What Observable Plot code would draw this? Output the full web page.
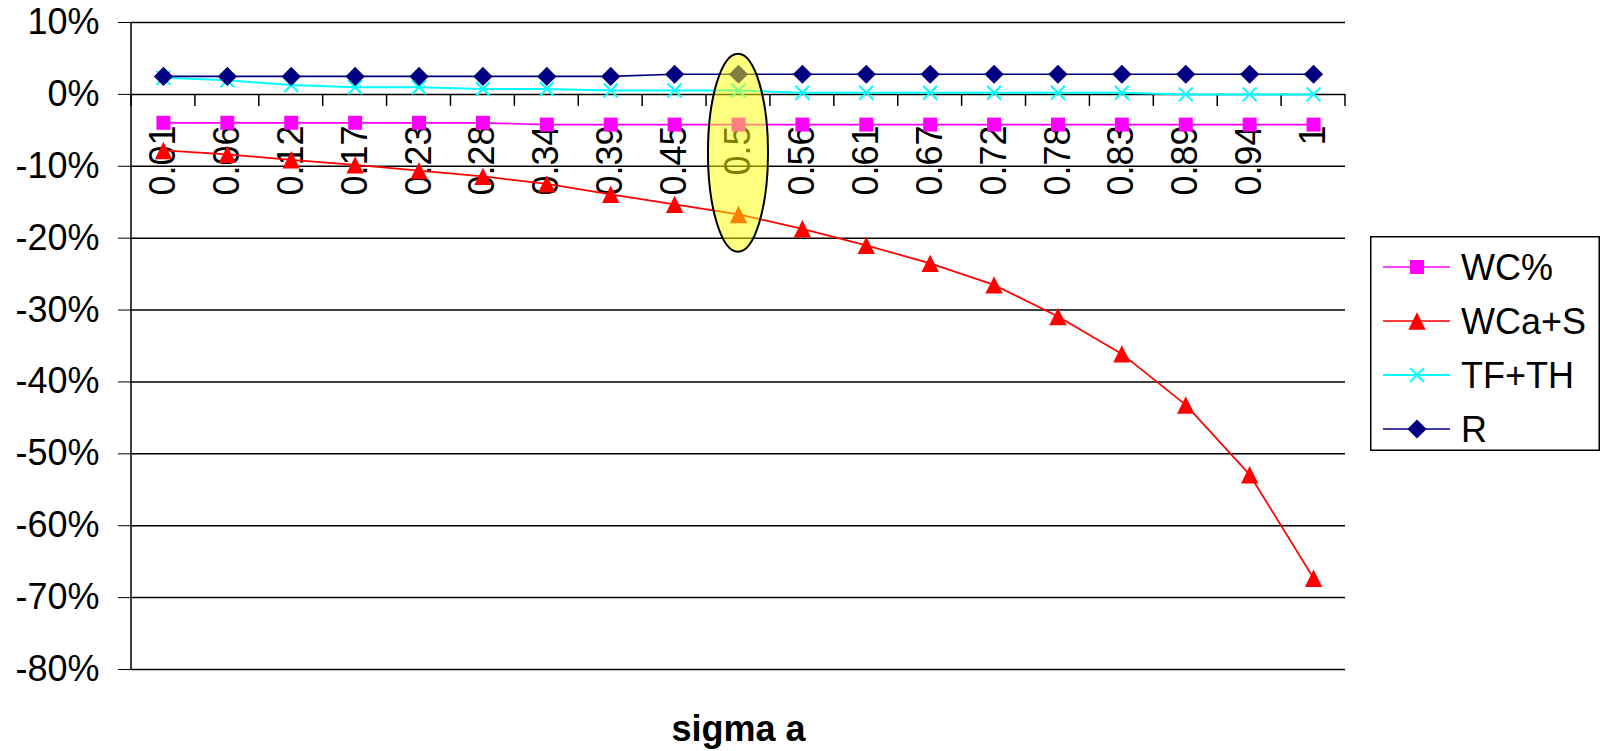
<!DOCTYPE html>
<html>
<head>
<meta charset="utf-8">
<script src="https://cdn.jsdelivr.net/npm/d3@7"></script>
<script src="https://cdn.jsdelivr.net/npm/@observablehq/plot@0.6"></script>
<style>
  body { margin: 0; background: #fff; }
  #wrap { position: relative; width: 1600px; height: 751px; font-family: "Liberation Sans", Arial, sans-serif; }
  #legend { position: absolute; left: 1370px; top: 236px; }
</style>
</head>
<body>
<div id="wrap"></div>
<script>
// ---- data ----
const categories = ["0.01","0.06","0.12","0.17","0.23","0.28","0.34","0.39","0.45","0.5",
                    "0.56","0.61","0.67","0.72","0.78","0.83","0.89","0.94","1"];
const seriesNames = ["WC%", "WCa+S", "TF+TH", "R"];
const wcPct = [-0.0395,-0.0395,-0.0395,-0.0395,-0.0395,-0.0395,-0.042,-0.042,-0.042,-0.042,
               -0.042,-0.042,-0.042,-0.042,-0.042,-0.042,-0.042,-0.042,-0.042];
const wcaS  = [-0.078,-0.0835,-0.091,-0.098,-0.106,-0.114,-0.1245,-0.139,-0.153,-0.167,
               -0.187,-0.210,-0.235,-0.265,-0.309,-0.361,-0.432,-0.529,-0.673];
const tfTh  = [0.023,0.0195,0.013,0.010,0.010,0.0074,0.0074,0.0055,0.0055,0.0055,
               0.0022,0.0022,0.0022,0.0022,0.0022,0.0022,0,0,0];
const rVals = [0.025,0.025,0.025,0.025,0.025,0.025,0.025,0.025,0.028,0.028,
               0.028,0.028,0.028,0.028,0.028,0.028,0.028,0.028,0.028];
const yTicks = [0.1,0,-0.1,-0.2,-0.3,-0.4,-0.5,-0.6,-0.7,-0.8];
const axisTitle = "sigma a";
// highlighted category (ellipse annotation), vertical extent in data units
const highlight = { category: "0.5", top: 0.056, bottom: -0.2195 };

// ---- styles ----
const seriesColors = ["#ff00ff", "#ff0000", "#00ffff", "#000080"];
const lineWidths = [1.7, 1.7, 2, 1.6];
const FONT = '"Liberation Sans", Arial, sans-serif';

const symbols = {
  square:   { draw(c, s) { const r = Math.sqrt(s / Math.PI); c.rect(-r, -r, 2 * r, 2 * r); } },
  triangle: { draw(c, s) { const r = Math.sqrt(s / Math.PI); c.moveTo(0, -r); c.lineTo(r, r); c.lineTo(-r, r); c.closePath(); } },
  times:    { draw(c, s) { const r = Math.sqrt(s / Math.PI); c.moveTo(-r, -r); c.lineTo(r, r); c.moveTo(r, -r); c.lineTo(-r, r); } },
  diamond:  { draw(c, s) { const r = Math.sqrt(s / Math.PI); c.moveTo(0, -r); c.lineTo(r, 0); c.lineTo(0, r); c.lineTo(-r, 0); c.closePath(); } }
};
const markers = [
  { symbol: symbols.square,   r: 7,   filled: true },
  { symbol: symbols.triangle, r: 8.7, filled: true },
  { symbol: symbols.times,    r: 7,   filled: false },
  { symbol: symbols.diamond,  r: 9.6, filled: true }
];

const valuesBySeries = [wcPct, wcaS, tfTh, rVals];
const rows = seriesNames.flatMap((s, i) => categories.map((c, j) => ({ series: s, cat: c, value: valuesBySeries[i][j] })));

// helper for function marks (supports both render signatures)
function fnMark(draw) {
  return function (...args) {
    const old = args[0] && typeof args[0].y === "function";
    const scales = old ? args[0] : args[1];
    const dims = old ? args[1] : args[3];
    return draw(scales, dims);
  };
}
function stepOf(x) {
  return typeof x.step === "function" ? x.step() : x(categories[1]) - x(categories[0]);
}

const axisLine = fnMark((s, d) => {
  const g = d3.create("svg:g");
  g.append("line")
    .attr("x1", d.marginLeft).attr("x2", d.marginLeft)
    .attr("y1", d.marginTop).attr("y2", d.height - d.marginBottom)
    .attr("stroke", "#000").attr("stroke-width", 1.5);
  return g.node();
});

const xTicks = fnMark((s, d) => {
  const g = d3.create("svg:g");
  const step = stepOf(s.x);
  const x0 = s.x(categories[0]) - step / 2;
  const y0 = s.y(0);
  for (let i = 0; i <= categories.length; i++) {
    g.append("line")
      .attr("x1", x0 + i * step).attr("x2", x0 + i * step)
      .attr("y1", y0).attr("y2", y0 + 12)
      .attr("stroke", "#000").attr("stroke-width", 1.5);
  }
  return g.node();
});

const ellipse = fnMark((s, d) => {
  const step = stepOf(s.x);
  const yt = s.y(highlight.top), yb = s.y(highlight.bottom);
  const g = d3.create("svg:g");
  g.append("ellipse")
    .attr("cx", s.x(highlight.category))
    .attr("cy", (yt + yb) / 2)
    .attr("rx", step * 0.47)
    .attr("ry", Math.abs(yb - yt) / 2)
    .attr("fill", "#ffff00").attr("fill-opacity", 0.5)
    .attr("stroke", "#000").attr("stroke-width", 2);
  return g.node();
});

const seriesMarks = seriesNames.flatMap((name, i) => {
  const data = rows.filter(r => r.series === name);
  const m = markers[i];
  return [
    Plot.line(data, { x: "cat", y: "value", stroke: seriesColors[i], strokeWidth: lineWidths[i] }),
    Plot.dot(data, {
      x: "cat", y: "value", symbol: m.symbol, r: m.r,
      fill: m.filled ? seriesColors[i] : "none",
      stroke: m.filled ? "none" : seriesColors[i],
      strokeWidth: m.filled ? 0 : 2
    })
  ];
});

const chart = Plot.plot({
  width: 1600,
  height: 751,
  marginLeft: 131,
  marginRight: 255,
  marginTop: 22,
  marginBottom: 82,
  style: { fontFamily: FONT, fontSize: "36px", color: "#000", background: "#fff" },
  x: { type: "point", domain: categories, padding: 0.5, round: false, axis: null },
  y: {
    domain: [-0.8, 0.1],
    ticks: yTicks,
    tickFormat: d => `${Math.round(d * 100)}%`,
    tickSize: 13,
    tickPadding: 19,
    label: null
  },
  marks: [
    Plot.ruleY(yTicks, { stroke: "#000", strokeWidth: 1.5 }),
    axisLine,
    xTicks,
    Plot.text(categories, {
      x: d => d, y: () => 0, text: d => d,
      rotate: -90, textAnchor: "end", dy: 31, fontSize: 36, fill: "#000"
    }),
    ...seriesMarks,
    ellipse,
    Plot.text([axisTitle], {
      frameAnchor: "bottom", text: d => d, dy: 71,
      fontSize: 36, fontWeight: "bold", fill: "#000"
    })
  ]
});

const wrap = document.getElementById("wrap");
wrap.appendChild(chart);

// ---- legend ----
const lg = d3.create("svg").attr("id", "legend").attr("width", 230).attr("height", 215);
lg.append("rect").attr("x", 0.75).attr("y", 0.75).attr("width", 228.5).attr("height", 213.5)
  .attr("fill", "#fff").attr("stroke", "#000").attr("stroke-width", 1.5);
seriesNames.forEach((name, i) => {
  const cy = 31 + i * 54;
  const m = markers[i];
  lg.append("line").attr("x1", 13).attr("x2", 80).attr("y1", cy).attr("y2", cy)
    .attr("stroke", seriesColors[i]).attr("stroke-width", lineWidths[i]);
  lg.append("path").attr("d", d3.symbol(m.symbol, Math.PI * m.r * m.r)())
    .attr("transform", `translate(47,${cy})`)
    .attr("fill", m.filled ? seriesColors[i] : "none")
    .attr("stroke", m.filled ? "none" : seriesColors[i])
    .attr("stroke-width", m.filled ? 0 : 2);
  lg.append("text").attr("x", 91).attr("y", cy + 13)
    .attr("font-family", FONT).attr("font-size", 36).attr("fill", "#000")
    .text(name);
});
wrap.appendChild(lg.node());
</script>
</body>
</html>
